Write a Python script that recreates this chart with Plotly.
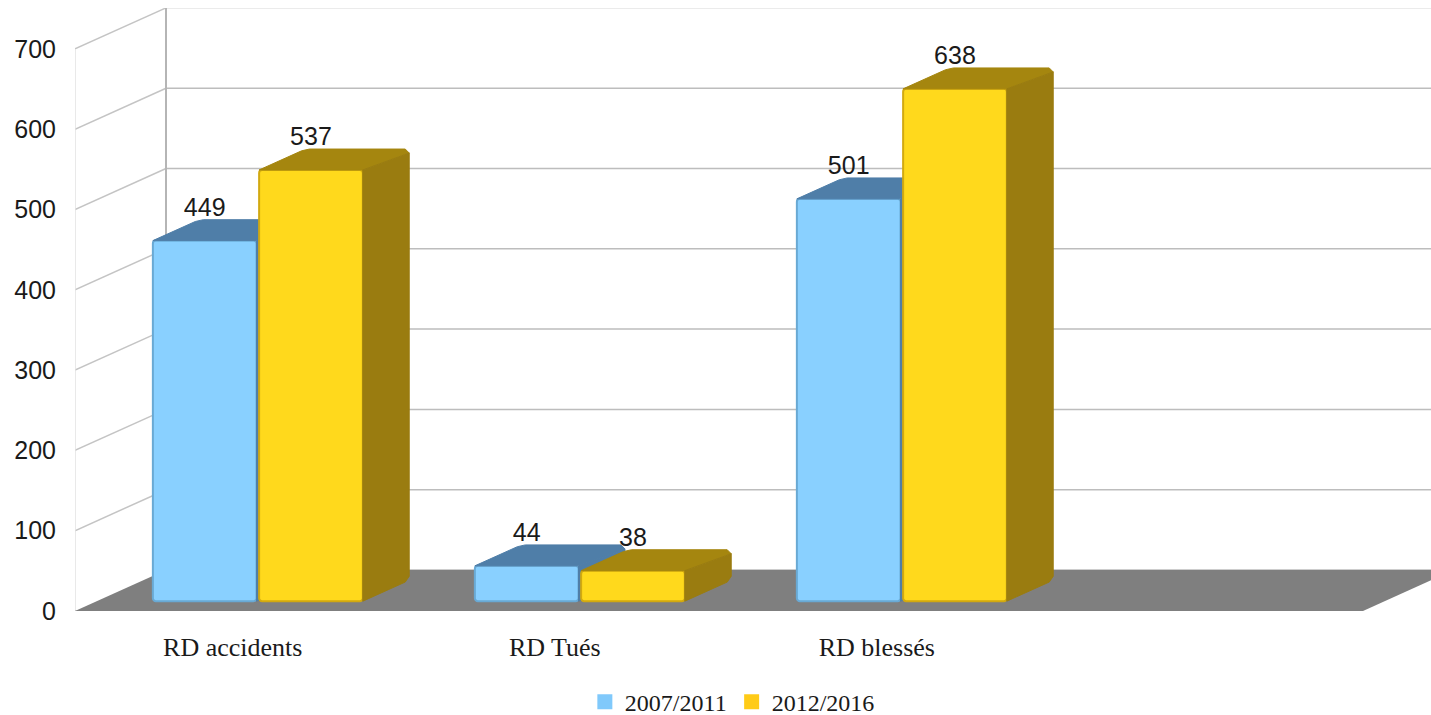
import plotly.graph_objects as go

categories = ["RD accidents", "RD Tués", "RD blessés"]
series_a_name = "2007/2011"
series_b_name = "2012/2016"
series_a = [449, 44, 501]
series_b = [537, 38, 638]
y_ticks = [0, 100, 200, 300, 400, 500, 600, 700]

W, H = 1431, 715
ML, MT, MB = 75, 8, 104
PX_PER_CAT = 322.0
PX_PER_VAL = 0.803
DEPTH_DX = 91 / PX_PER_CAT
DEPTH_DY = 41 / PX_PER_VAL
D0, D1 = 0.24, 0.75
SLOT = 0.165
BAR_W = 0.322
XR = [-0.5, -0.5 + (W - ML) / PX_PER_CAT]
YR = [0, (H - MT - MB) / PX_PER_VAL]
N_SLOTS = 4
CH_X = 4 / PX_PER_CAT
CH_V = 4 / PX_PER_VAL
CH_D = 4 / 91


def proj(x, v, d):
    return x + d * DEPTH_DX, v + d * DEPTH_DY


def shift(p, dx=0.0, dv=0.0):
    return p[0] + dx, p[1] + dv


def poly(points):
    parts = []
    for i, (x, y) in enumerate(points):
        parts.append(("M" if i == 0 else "L") + f"{x:.4f},{y:.4f}")
    return " ".join(parts) + " Z"


def seg(x0, v0, d0, x1, v1, d1, color, width=1.5):
    a, b = proj(x0, v0, d0), proj(x1, v1, d1)
    return dict(type="line", xref="x", yref="y", x0=a[0], y0=a[1], x1=b[0], y1=b[1],
                line=dict(color=color, width=width), layer="below")


left, right = -0.5, -0.5 + N_SLOTS
shapes = []
for t in y_ticks:
    col = "#e4e4e4" if t == y_ticks[-1] else "#bdbdbd"
    if t > 0:
        shapes.append(seg(left, t, 0, left, t, 1, "#c4c4c4"))
    shapes.append(seg(left, t, 1, right + 1, t, 1, col))
shapes.append(seg(left, 0, 0, left, y_ticks[-1], 0, "#e2e2e2"))
shapes.append(seg(left, 0, 1, left, y_ticks[-1], 1, "#b5b5b5", 2))
shapes.append(seg(left, 0, 0, right, 0, 0, "#d8d8d8", 2))
shapes.append(dict(type="path", xref="x", yref="y", layer="below",
                   path=poly([proj(left, 0, 0), proj(right, 0, 0), proj(right, 0, 1), proj(left, 0, 1)]),
                   fillcolor="#7f7f7f", line=dict(width=0)))


def bar_and_faces(values, offset, name, face, edge, top, side, xa, ya):
    xs = [i + D0 * DEPTH_DX + offset for i in range(len(values))]
    base = D0 * DEPTH_DY
    out = [go.Bar(x=xs, y=values, base=[base] * len(values), width=BAR_W, name=name, showlegend=False,
                  marker=dict(color=face, line=dict(color=edge, width=2), cornerradius=3),
                  xaxis=xa, yaxis=ya, hoverinfo="skip")]
    tx, ty, sx, sy = [], [], [], []
    for cx, v in zip(xs, values):
        x_l = cx - BAR_W / 2 - D0 * DEPTH_DX
        x_r = cx + BAR_W / 2 - D0 * DEPTH_DX
        back_r = proj(x_r, v, D1)
        a = shift(back_r, dx=-CH_X)
        b = shift(back_r, dv=-CH_V)
        pts = [proj(x_l, v, D0), proj(x_r, v, D0), b, a,
               shift(proj(x_l, v, D1), dx=CH_X), proj(x_l, v, D1 - CH_D), proj(x_l, v, D0)]
        tx += [p[0] for p in pts] + [None]
        ty += [p[1] for p in pts] + [None]
        bottom_back = proj(x_r, 0, D1)
        pts = [proj(x_r, 0, D0), proj(x_r, 0, D1 - CH_D), shift(bottom_back, dv=CH_V), b,
               proj(x_r, v, D0), proj(x_r, 0, D0)]
        sx += [p[0] for p in pts] + [None]
        sy += [p[1] for p in pts] + [None]
    for px, py, col in ((tx, ty, top), (sx, sy, side)):
        out.append(go.Scatter(x=px, y=py, mode="lines", fill="toself", fillcolor=col,
                              line=dict(color=col, width=1), showlegend=False,
                              xaxis=xa, yaxis=ya, hoverinfo="skip"))
    return out, xs


fig = go.Figure()
tr_a, xs_a = bar_and_faces(series_a, -SLOT, series_a_name, "#89d0ff", "#69a9d4", "#4f7ea8", "#4f7ea8", "x", "y")
tr_b, xs_b = bar_and_faces(series_b, SLOT, series_b_name, "#ffd91c", "#d2a90f", "#a5860f", "#9a7c10", "x2", "y2")
fig.add_traces(tr_a + tr_b)

LABEL_GAP = 31 / PX_PER_VAL
label_x = xs_a + xs_b
label_v = series_a + series_b
fig.add_trace(go.Scatter(x=label_x, y=[v + D0 * DEPTH_DY + LABEL_GAP for v in label_v],
                         text=[str(v) for v in label_v], mode="text", textposition="middle center",
                         textfont=dict(family="Liberation Sans", size=25, color="#1a1a1a"),
                         showlegend=False, xaxis="x2", yaxis="y2", hoverinfo="skip"))

for nm, col in ((series_a_name, "#80c9fb"), (series_b_name, "#ffcb17")):
    fig.add_trace(go.Scatter(x=[None], y=[None], mode="markers", name=nm,
                             marker=dict(symbol="square", size=15, color=col), xaxis="x2", yaxis="y2"))

fig.update_layout(
    width=W, height=H, margin=dict(l=ML, r=0, t=MT, b=MB, pad=0, autoexpand=False),
    paper_bgcolor="white", plot_bgcolor="white", barmode="overlay", shapes=shapes,
    xaxis=dict(range=XR, tickvals=[i - 0.01 for i in range(len(categories))], ticktext=categories,
               showgrid=False, zeroline=False, showline=False, ticks="", ticklabelstandoff=18,
               tickfont=dict(family="Liberation Serif", size=26, color="#1a1a1a")),
    yaxis=dict(range=YR, tickvals=y_ticks, showgrid=False, zeroline=False, showline=False, ticks="",
               ticklabelstandoff=18,
               tickfont=dict(family="Liberation Sans", size=25, color="#1a1a1a")),
    xaxis2=dict(range=XR, overlaying="x", visible=False),
    yaxis2=dict(range=YR, overlaying="y", visible=False),
    legend=dict(orientation="h", x=0.376, xanchor="left", y=-0.151, yanchor="middle",
                font=dict(family="Liberation Serif", size=24, color="#1a1a1a"),
                bgcolor="rgba(0,0,0,0)"),
)
fig.write_html("out.html", post_script="document.body.style.margin='0';",
               config={"displayModeBar": False})
